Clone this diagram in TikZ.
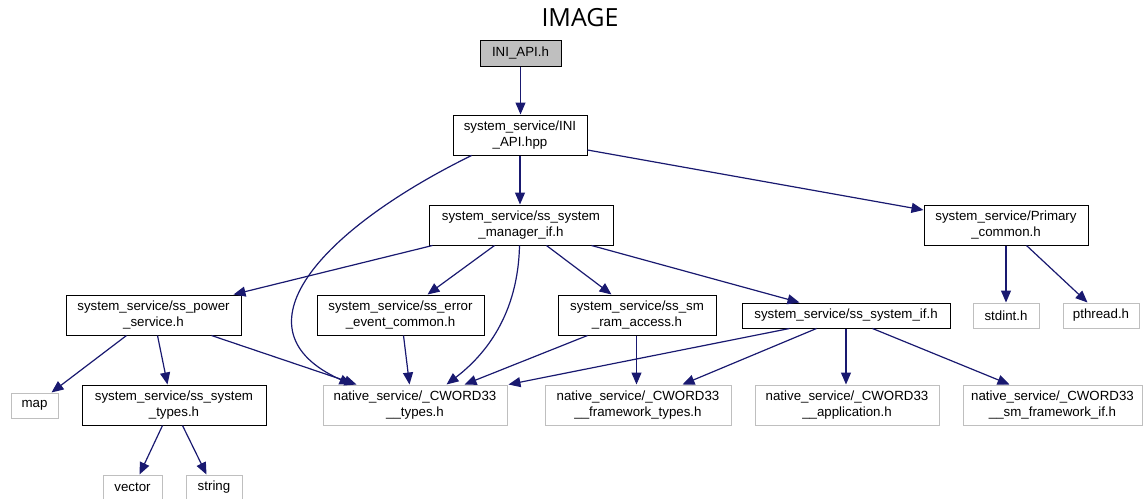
\documentclass[tikz,border=0pt]{standalone}
\usepackage{fontspec}
\setmainfont{Liberation Sans}
\newfontfamily\titlefont{Open Sans}
\usetikzlibrary{arrows.meta}
\definecolor{edgecol}{HTML}{191970}
\definecolor{extgray}{HTML}{BFBFBF}
\tikzset{
  file/.style={draw=black, line width=1pt, fill=white, inner sep=0pt, align=center,
               font=\fontsize{13.3}{15.5}\selectfont},
  ext/.style={file, draw=extgray},
  root/.style={file, fill=extgray},
  dep/.style={draw=edgecol, line width=1.2pt, -{Triangle[length=12pt,width=10pt]}},
}
\begin{document}
\begin{tikzpicture}[x=1pt,y=-1pt]
\useasboundingbox (0,0) rectangle (1143,498);
\clip (0,0) rectangle (1143,498);

% title
\node[font=\titlefont\fontsize{25}{28}\selectfont] (title) at (580,18) {IMAGE};

% include files
\node[root, minimum width=81pt,  minimum height=26pt] (inih)  at (520.5,53)  {INI\_API.h};
\node[file, minimum width=134pt, minimum height=40pt] (hpp)   at (520,135)   {system\_service/INI\\\_API.hpp};
\node[file, minimum width=184pt, minimum height=40pt] (mgr)   at (521,225)   {system\_service/ss\_system\\\_manager\_if.h};
\node[file, minimum width=164pt, minimum height=40pt] (prim)  at (1006,225)  {system\_service/Primary\\\_common.h};
\node[file, minimum width=175pt, minimum height=40pt] (power) at (153.5,315) {system\_service/ss\_power\\\_service.h};
\node[file, minimum width=167pt, minimum height=40pt] (err)   at (400.5,315) {system\_service/ss\_error\\\_event\_common.h};
\node[file, minimum width=158pt, minimum height=40pt] (ram)   at (637,315)   {system\_service/ss\_sm\\\_ram\_access.h};
\node[file, minimum width=208pt, minimum height=25pt] (sysif) at (846,315.5) {system\_service/ss\_system\_if.h};
\node[ext,  minimum width=66pt,  minimum height=25pt] (stdint) at (1006,315.5) {stdint.h};
\node[ext,  minimum width=76pt,  minimum height=25pt] (pthr)  at (1101,315.5) {pthread.h};
\node[ext,  minimum width=47pt,  minimum height=25pt] (map)   at (34.5,405.5) {map};
\node[file, minimum width=184pt, minimum height=40pt] (stypes) at (174,405)  {system\_service/ss\_system\\\_types.h};
\node[ext,  minimum width=184pt, minimum height=40pt] (ntypes) at (415,405)  {native\_service/\_CWORD33\\\_\_types.h};
\node[ext,  minimum width=186pt, minimum height=40pt] (nfw)   at (638,405)   {native\_service/\_CWORD33\\\_\_framework\_types.h};
\node[ext,  minimum width=184pt, minimum height=40pt] (napp)  at (847,405)   {native\_service/\_CWORD33\\\_\_application.h};
\node[ext,  minimum width=179pt, minimum height=40pt] (nsm)   at (1052.5,405) {native\_service/\_CWORD33\\\_\_sm\_framework\_if.h};
\node[ext,  minimum width=59pt,  minimum height=25pt] (vec)   at (132.5,487.5) {vector};
\node[ext,  minimum width=56pt,  minimum height=25pt] (str)   at (214,487.5) {string};

% dependencies
\draw[dep] (inih.south) -- (inih.south |- hpp.north);
\draw[dep] (hpp.south) -- (hpp.south |- mgr.north);
\draw[dep] ([yshift=-15pt]hpp.east) -- ([yshift=15pt]prim.west);
\draw[dep] ([xshift=19pt]hpp.south west) .. controls (320,230) and (230,330) .. ([xshift=29pt]ntypes.north west);

\draw[dep] ([xshift=4pt]mgr.south west) -- ([xshift=-8pt]power.north east);
\draw[dep] ([xshift=66pt]mgr.south west) -- ([xshift=111pt]err.north west);
\draw[dep] ([xshift=91pt]mgr.south west) .. controls (518,315) and (485,355) .. ([xshift=124pt]ntypes.north west);
\draw[dep] ([xshift=118pt]mgr.south west) -- ([xshift=54pt]ram.north west);
\draw[dep] ([xshift=163pt]mgr.south west) -- ([xshift=58pt]sysif.north west);

\draw[dep] ([xshift=61pt]power.south west) -- ([xshift=41pt]map.north west);
\draw[dep] ([xshift=92pt]power.south west) -- ([xshift=86pt]stypes.north west);
\draw[dep] ([xshift=146pt]power.south west) -- ([xshift=34pt]ntypes.north west);

\draw[dep] ([xshift=87pt]err.south west) -- ([xshift=87pt]ntypes.north west);

\draw[dep] ([xshift=30pt]ram.south west) -- ([xshift=142pt]ntypes.north west);
\draw[dep] ([xshift=79pt]ram.south west) -- ([xshift=92pt]nfw.north west);

\draw[dep] ([xshift=48pt]sysif.south west) -- ([xshift=1pt]ntypes.north east);
\draw[dep] ([xshift=75pt]sysif.south west) -- ([xshift=138pt]nfw.north west);
\draw[dep] (sysif.south) -- (sysif.south |- napp.north);
\draw[dep] ([xshift=131pt]sysif.south west) -- ([xshift=47pt]nsm.north west);

\draw[dep] ([xshift=81pt]stypes.south west) -- ([xshift=37pt]vec.north west);
\draw[dep] ([xshift=101pt]stypes.south west) -- ([xshift=21pt]str.north west);

\draw[dep] (prim.south) -- (prim.south |- stdint.north);
\draw[dep] ([xshift=103pt]prim.south west) -- ([xshift=25pt]pthr.north west);
\end{tikzpicture}
\end{document}
